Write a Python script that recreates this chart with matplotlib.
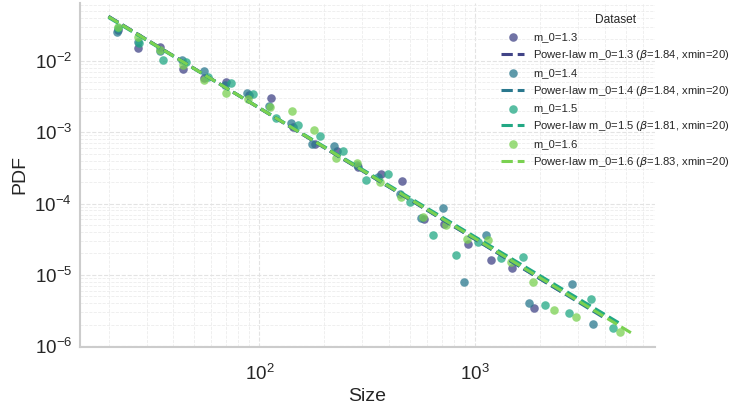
import numpy as np
import matplotlib
matplotlib.use("Agg")
import matplotlib.pyplot as plt
import seaborn as sns

sns.set_theme(style="whitegrid")
plt.rcParams['font.family'] = ['Liberation Sans', 'DejaVu Sans']

datasets = ["m_0=1.3", "m_0=1.4", "m_0=1.5", "m_0=1.6"]
betas = [1.84, 1.84, 1.81, 1.83]
xmins = [20, 20, 20, 20]
xmaxs = [2500, 4000, 4800, 5300]

size_13 = [22.2, 27.5, 34.8, 44.5, 55.6, 70.3, 89.9, 113.6, 143.7, 181.7, 229.7,
           287.3, 367.2, 459.2, 580.6, 718.6, 928.2, 1186, 1483, 1876]
pdf_13 = [0.0272, 0.0152, 0.0157, 0.00772, 0.00577, 0.00507, 0.00333, 0.00303,
          0.00119, 0.000684, 0.000546, 0.000325, 0.000259, 0.000207, 6.06e-5,
          5.16e-5, 2.70e-5, 1.61e-5, 1.24e-5, 3.41e-6]

size_14 = [22.0, 27.5, 34.8, 44.0, 55.6, 69.6, 88.0, 111.3, 140.7, 176.0, 222.4,
           284.2, 355.6, 449.6, 562.3, 710.9, 889.5, 1124.4, 1778, 2812, 3518]
pdf_14 = [0.0255, 0.0185, 0.0138, 0.0103, 0.00724, 0.00460, 0.00356, 0.00234,
          0.00135, 0.000684, 0.000641, 0.000347, 0.000235, 0.000136, 6.26e-5,
          8.65e-5, 7.91e-6, 3.61e-5, 4.01e-6, 7.42e-6, 2.04e-6]

size_15 = [22.2, 27.8, 35.9, 45.9, 58.1, 74.2, 93.8, 119.9, 151.5, 191.6, 244.8,
           312.9, 395.6, 500.2, 639.1, 816.6, 1032.5, 1319.6, 1668, 2110, 2724,
           3444, 4355]
pdf_15 = [0.0290, 0.0179, 0.0103, 0.00968, 0.00596, 0.00491, 0.00344, 0.00158,
          0.00126, 0.000886, 0.000546, 0.000214, 0.000259, 0.000105, 3.61e-5,
          1.89e-5, 2.88e-5, 1.72e-5, 1.77e-5, 3.76e-6, 2.90e-6, 4.57e-6, 1.79e-6]

size_16 = [22.2, 27.5, 34.8, 44.5, 55.6, 70.3, 88.9, 112.4, 142.2, 179.8, 227.2,
           284.2, 363.3, 454.4, 574.4, 734.1, 918.4, 1148.7, 1468, 1856, 2321,
           2935, 4691]
pdf_16 = [0.0300, 0.0217, 0.0143, 0.00879, 0.00541, 0.00356, 0.00293, 0.00226,
          0.00199, 0.00108, 0.000435, 0.000370, 0.000200, 0.000123, 6.46e-5,
          4.99e-5, 3.18e-5, 3.07e-5, 1.51e-5, 7.91e-6, 3.20e-6, 2.55e-6, 1.57e-6]

sizes = [size_13, size_14, size_15, size_16]
pdfs = [pdf_13, pdf_14, pdf_15, pdf_16]
colors = sns.color_palette("viridis", 4)

fig = plt.figure(figsize=(7.3, 4.08), dpi=100)
ax = fig.add_axes([0.11, 0.15, 0.787, 0.843])

for name, x, y, b, xmin, xmax, c in zip(datasets, sizes, pdfs, betas, xmins, xmaxs, colors):
    ax.scatter(x, y, s=38, color=c, alpha=0.75, linewidth=0, label=name)
    # fitted power law: p(x) = (beta-1)/xmin * (x/xmin)^-beta
    xs = np.array([xmin, xmax], dtype=float)
    ys = (b - 1) / xmin * (xs / xmin) ** (-b)
    ax.plot(xs, ys, linestyle="--", color=c, linewidth=2.2,
            label=f"Power-law {name} ($\\beta$={b:.2f}, xmin={xmin})")

ax.set_xscale("log")
ax.set_yscale("log")
ax.set_xlim(14.8, 6800)
ax.set_ylim(0.98e-6, 0.065)
ax.grid(True, which="major", linestyle="--", linewidth=0.8, color="#e3e3e3")
ax.grid(True, which="minor", linestyle="--", linewidth=0.6, color="#ececec")
ax.tick_params(axis="x", which="major", labelsize=13.5, length=0, pad=12)
ax.tick_params(axis="y", which="major", labelsize=13.5, length=0, pad=6)
ax.tick_params(axis="both", which="minor", length=0)
ax.set_xlabel("Size", fontsize=14, labelpad=3)
ax.set_ylabel("PDF", fontsize=14)
sns.despine(ax=ax)
for sp in ("left", "bottom"):
    ax.spines[sp].set_color("#cccccc")
    ax.spines[sp].set_linewidth(1.5)

leg = ax.legend(title="Dataset", loc="upper left", bbox_to_anchor=(0.673, 0.99),
                bbox_transform=fig.transFigure, frameon=False, fontsize=8.1,
                title_fontsize=8.6, labelspacing=0.52, handlelength=2.0)

fig.savefig("out.png", dpi=100)
